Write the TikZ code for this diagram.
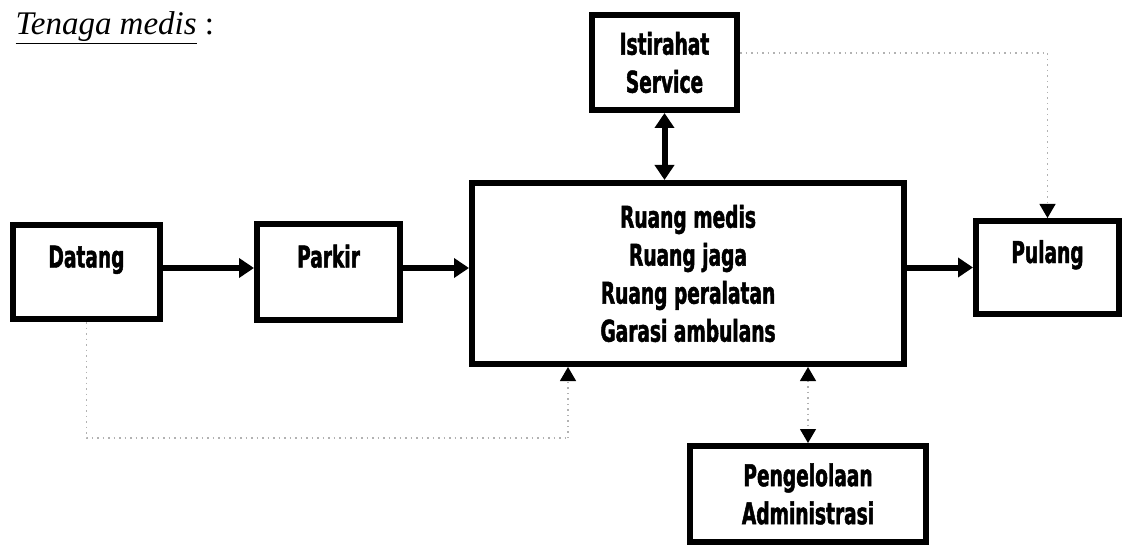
\documentclass[tikz,border=0pt]{standalone}
\usepackage{fontspec}
\setmainfont{Liberation Serif}
\newfontfamily\boxfont{DejaVu Sans}[FakeStretch=0.62,FakeBold=1.5]
\usetikzlibrary{arrows.meta}

\begin{document}
\begin{tikzpicture}[x=1pt,y=-1pt,
  blk/.style={draw,line width=6pt,inner sep=0pt,align=center,
    font=\boxfont\bfseries\fontsize{30}{38}\selectfont},
  one/.style={blk,text height=22pt,text depth=31pt},
  arr/.style={line width=6pt,-{Triangle[length=15pt,width=19pt]}},
  darr/.style={line width=6pt,{Triangle[length=15pt,width=19pt]}-{Triangle[length=15pt,width=19pt]}},
  dots/.style={gray!60,line width=1.2pt,dash pattern=on 1.5pt off 4pt},
  dtip/.tip={Triangle[length=14pt,width=16pt,black]}]
  \useasboundingbox (0,0) rectangle (1127,548);
  \node[anchor=base west,font=\fontsize{33}{38}\selectfont] (ttl) at (12,35) {\underline{\textit{Tenaga medis}} :};
  \node[one,minimum width=147pt,minimum height=94pt] (dat) at (86.5,272) {Datang};
  \node[one,minimum width=143pt,minimum height=95pt] (park) at (328.5,272) {Parkir};
  \node[blk,minimum width=432pt,minimum height=181pt] (mid) at (688,273.5)
    {Ruang medis\\Ruang jaga\\Ruang peralatan\\Garasi ambulans};
  \node[blk,minimum width=145pt,minimum height=95pt] (ist) at (664.5,62.5) {Istirahat\\Service};
  \node[one,minimum width=143pt,minimum height=93pt] (pul) at (1047.5,267.5) {Pulang};
  \node[blk,minimum width=236pt,minimum height=96pt] (adm) at (808,494) {Pengelolaan\\Administrasi};
  \coordinate (lo) at (568,438);
  % alur utama
  \draw[arr] ([yshift=4pt]dat.east) -- ([yshift=4pt]dat.east -| park.west);
  \draw[arr] ([yshift=4pt]park.east) -- ([yshift=4pt]park.east -| mid.west);
  \draw[arr] (pul.west -| mid.east) -- (pul.west);
  \draw[darr] (ist.south) -- (ist.south |- mid.north);
  % alur putus-putus
  \draw[dots,-dtip] ([yshift=9.5pt]ist.east) -| (pul.north);
  \draw[dots] (dat.south) |- (lo);
  \draw[dots,-dtip] (lo) -- (lo |- mid.south);
  \draw[dots,dtip-dtip] (adm.north |- mid.south) -- (adm.north);
\end{tikzpicture}
\end{document}
